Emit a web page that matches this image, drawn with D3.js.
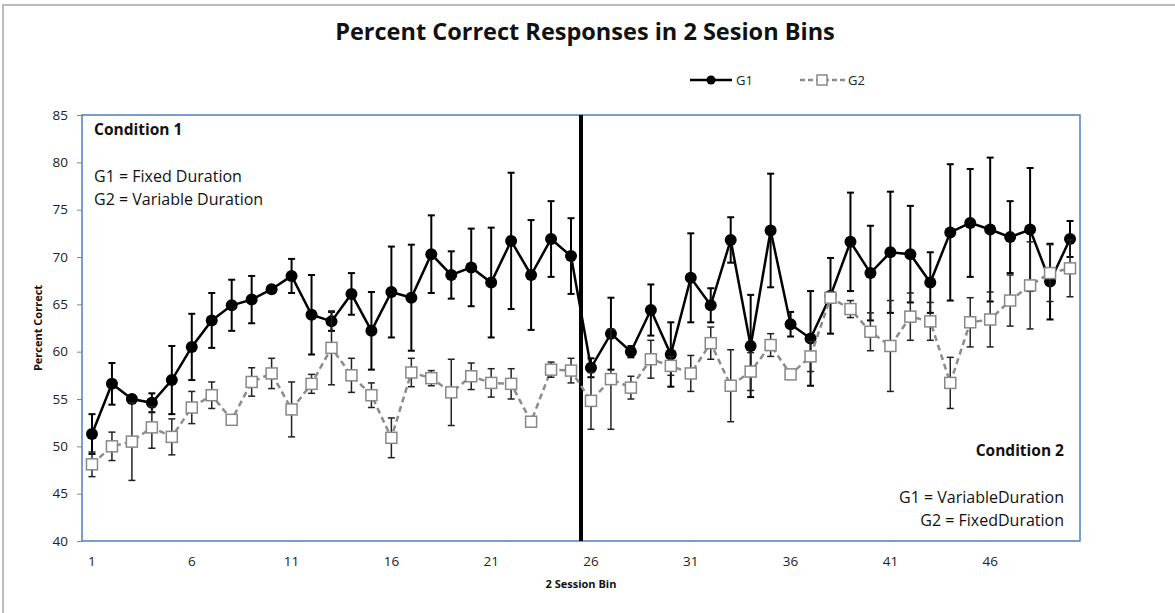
<!DOCTYPE html>
<html>
<head>
<meta charset="utf-8">
<script src="https://cdn.jsdelivr.net/npm/d3@7"></script>
<style>
  body { margin: 0; background: #fff; }
  svg { display: block; font-family: "Open Sans", sans-serif; }
</style>
</head>
<body>
<svg id="chart" width="1175" height="613"></svg>
<script>
// 2-session bins
var bins = d3.range(1, 51);
var xTicks = [1, 6, 11, 16, 21, 26, 31, 36, 41, 46];
var yTicks = [40, 45, 50, 55, 60, 65, 70, 75, 80, 85];

var g1 = [51.3, 56.6, 55.0, 54.6, 57.0, 60.5, 63.3, 64.9, 65.5, 66.6,
          68.0, 63.9, 63.2, 66.1, 62.2, 66.3, 65.7, 70.3, 68.1, 68.9,
          67.3, 71.7, 68.1, 71.9, 70.1, 58.3, 61.9, 60.0, 64.4, 59.7,
          67.8, 64.9, 71.8, 60.6, 72.8, 62.9, 61.4, 65.9, 71.6, 68.3,
          70.5, 70.3, 67.3, 72.6, 73.6, 72.9, 72.1, 72.9, 67.4, 71.9];
var g1Err = [2.1, 2.2, 0.3, 1.0, 3.6, 3.5, 2.9, 2.7, 2.5, 0.3,
             1.8, 4.2, 1.0, 2.2, 4.1, 4.8, 5.6, 4.1, 2.5, 4.1,
             5.8, 7.2, 5.8, 4.0, 4.0, 1.0, 3.8, 0.6, 2.7, 3.4,
             4.7, 1.8, 2.4, 5.4, 6.0, 1.3, 5.0, 4.0, 5.2, 5.0,
             6.4, 5.1, 3.2, 7.2, 5.7, 7.6, 3.8, 6.5, 4.0, 1.9];
var g2 = [48.1, 50.0, 50.5, 52.0, 51.0, 54.1, 55.4, 52.8, 56.8, 57.7,
          53.9, 56.6, 60.4, 57.5, 55.4, 50.9, 57.8, 57.2, 55.7, 57.4,
          56.7, 56.6, 52.6, 58.1, 58.0, 54.8, 57.1, 56.2, 59.2, 58.5,
          57.7, 60.9, 56.4, 57.9, 60.7, 57.6, 59.5, 65.7, 64.5, 62.1,
          60.6, 63.7, 63.2, 56.7, 63.1, 63.4, 65.4, 67.0, 68.3, 68.8];
var g2Err = [1.3, 1.5, 4.1, 2.2, 1.9, 1.7, 1.4, 0.3, 1.5, 1.6,
             2.9, 1.0, 3.9, 1.8, 1.3, 2.1, 1.5, 0.8, 3.5, 1.4,
             1.5, 1.6, 0.3, 0.8, 1.3, 3.0, 5.3, 1.2, 2.0, 1.0,
             1.9, 1.7, 3.8, 2.0, 1.2, 0.2, 1.6, 0.5, 0.9, 2.0,
             4.8, 2.5, 2.0, 2.7, 2.6, 2.9, 2.7, 4.6, 3.0, 3.0];

var svg = d3.select("#chart");
var pLeft = 82, pRight = 1080, pTop = 115, pBottom = 541;

// outer chart frame
svg.append("rect")
  .attr("x", 3).attr("y", 5).attr("width", 1200).attr("height", 700)
  .attr("fill", "none").attr("stroke", "#a6a6a6").attr("stroke-width", 1.5);

var x = d3.scaleBand().domain(bins).range([pLeft, pRight]);
var y = d3.scaleLinear().domain([40, 85]).range([pBottom, pTop]);
var cx = function(i) { return x(bins[i]) + x.bandwidth() / 2; };

// axes
var yAxis = svg.append("g")
  .attr("transform", "translate(" + pLeft + ",0)")
  .call(d3.axisLeft(y).tickValues(yTicks).tickSize(5).tickPadding(9));
yAxis.select(".domain").remove();
yAxis.selectAll("line").attr("stroke", "#868686");
yAxis.selectAll("text").attr("font-size", 13.5).attr("fill", "#222")
  .attr("font-family", "Open Sans");

var xAxis = svg.append("g")
  .attr("transform", "translate(0," + pBottom + ")")
  .call(d3.axisBottom(x).tickValues(xTicks).tickSize(0).tickPadding(15));
xAxis.select(".domain").remove();
xAxis.selectAll("text").attr("font-size", 13.5).attr("fill", "#222")
  .attr("font-family", "Open Sans");

// plot border
svg.append("rect")
  .attr("x", pLeft).attr("y", pTop)
  .attr("width", pRight - pLeft).attr("height", pBottom - pTop)
  .attr("fill", "none").attr("stroke", "#4f7fbc").attr("stroke-width", 1.5);

// condition divider
svg.append("line")
  .attr("x1", x(26)).attr("x2", x(26))
  .attr("y1", pTop).attr("y2", pBottom)
  .attr("stroke", "#000").attr("stroke-width", 4);

function drawSeries(vals, errs, opt) {
  var line = d3.line()
    .x(function(d, i) { return cx(i); })
    .y(function(d) { return y(d); });
  svg.append("path").datum(vals)
    .attr("d", line)
    .attr("fill", "none")
    .attr("stroke", opt.lineColor)
    .attr("stroke-width", 2.5)
    .attr("stroke-dasharray", opt.dash);

  var eb = svg.append("g").attr("stroke", opt.errColor).attr("stroke-width", opt.errWidth);
  vals.forEach(function(v, i) {
    var e = errs[i], xx = cx(i);
    eb.append("line").attr("x1", xx).attr("x2", xx).attr("y1", y(v - e)).attr("y2", y(v + e));
    eb.append("line").attr("x1", xx - 3.5).attr("x2", xx + 3.5).attr("y1", y(v - e)).attr("y2", y(v - e));
    eb.append("line").attr("x1", xx - 3.5).attr("x2", xx + 3.5).attr("y1", y(v + e)).attr("y2", y(v + e));
  });

  if (opt.marker === "circle") {
    svg.append("g").selectAll("circle").data(vals).enter().append("circle")
      .attr("cx", function(d, i) { return cx(i); })
      .attr("cy", function(d) { return y(d); })
      .attr("r", 6).attr("fill", "#000");
  } else {
    svg.append("g").selectAll("rect").data(vals).enter().append("rect")
      .attr("x", function(d, i) { return cx(i) - 5.5; })
      .attr("y", function(d) { return y(d) - 5.5; })
      .attr("width", 11).attr("height", 11)
      .attr("fill", "#fff").attr("stroke", "#888").attr("stroke-width", 1.5);
  }
}

drawSeries(g1, g1Err, { lineColor: "#000", dash: null, errColor: "#000", errWidth: 2, marker: "circle" });
drawSeries(g2, g2Err, { lineColor: "#8c8c8c", dash: "6,4", errColor: "#222", errWidth: 1.5, marker: "square" });

// title
svg.append("text")
  .attr("x", 585).attr("y", 40)
  .attr("text-anchor", "middle")
  .attr("font-size", 23.5).attr("font-weight", "bold").attr("fill", "#111")
  .text("Percent Correct Responses in 2 Sesion Bins");

// legend
var lg = svg.append("g");
lg.append("line").attr("x1", 690).attr("x2", 732).attr("y1", 80).attr("y2", 80)
  .attr("stroke", "#000").attr("stroke-width", 2.5);
lg.append("circle").attr("cx", 711).attr("cy", 80).attr("r", 4.5).attr("fill", "#000");
lg.append("text").attr("x", 736).attr("y", 84.5).attr("font-size", 13).attr("fill", "#222").text("G1");
lg.append("line").attr("x1", 800).attr("x2", 846).attr("y1", 80).attr("y2", 80)
  .attr("stroke", "#8c8c8c").attr("stroke-width", 2.5).attr("stroke-dasharray", "5,3");
lg.append("rect").attr("x", 817).attr("y", 75).attr("width", 10).attr("height", 10)
  .attr("fill", "#fff").attr("stroke", "#888").attr("stroke-width", 1.5);
lg.append("text").attr("x", 848).attr("y", 84.5).attr("font-size", 13).attr("fill", "#222").text("G2");

// axis titles
svg.append("text")
  .attr("transform", "translate(42,328) rotate(-90)")
  .attr("text-anchor", "middle")
  .attr("font-size", 11).attr("font-weight", "bold").attr("fill", "#111")
  .text("Percent Correct");
svg.append("text")
  .attr("x", 581).attr("y", 588)
  .attr("text-anchor", "middle")
  .attr("font-size", 11).attr("font-weight", "bold").attr("fill", "#111")
  .text("2 Session Bin");

// condition notes
var notes = svg.append("g").attr("fill", "#111");
notes.append("text").attr("x", 94).attr("y", 135).attr("font-size", 15.5).attr("font-weight", "bold").text("Condition 1");
notes.append("text").attr("x", 94).attr("y", 182).attr("font-size", 16).text("G1 = Fixed Duration");
notes.append("text").attr("x", 94).attr("y", 205).attr("font-size", 16).text("G2 = Variable Duration");
notes.append("text").attr("x", 1064).attr("y", 456).attr("text-anchor", "end").attr("font-size", 15.5).attr("font-weight", "bold").text("Condition 2");
notes.append("text").attr("x", 1064).attr("y", 503).attr("text-anchor", "end").attr("font-size", 16).text("G1 = VariableDuration");
notes.append("text").attr("x", 1064).attr("y", 526).attr("text-anchor", "end").attr("font-size", 16).text("G2 = FixedDuration");
</script>
</body>
</html>
